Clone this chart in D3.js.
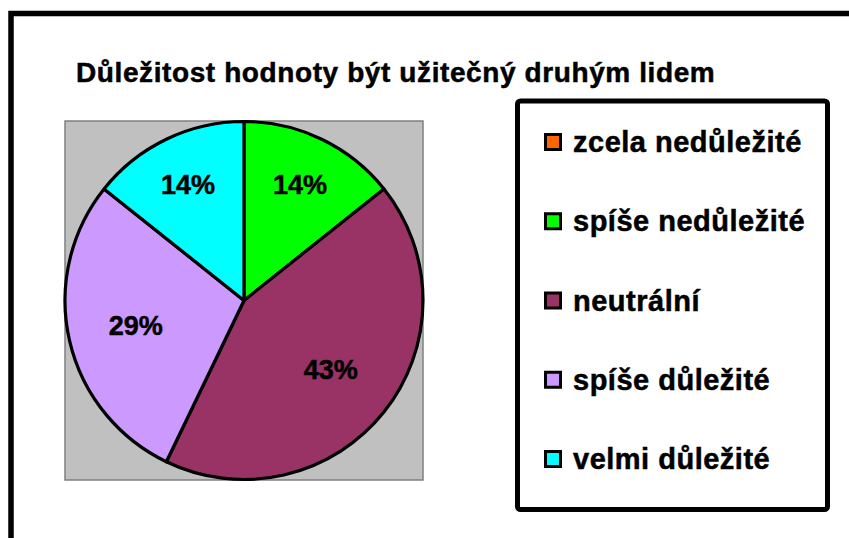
<!DOCTYPE html>
<html>
<head>
<meta charset="utf-8">
<script src="https://cdn.jsdelivr.net/npm/d3@7"></script>
<style>
  body { margin: 0; background: #fff; }
  text { font-family: "Liberation Sans", Arial, sans-serif; font-weight: bold; stroke: #000; stroke-width: 0.5; }
</style>
</head>
<body>
<div class="chart"></div>
<script>
// Data (counts out of 7 answers)
const categories = ["zcela nedůležité", "spíše nedůležité", "neutrální", "spíše důležité", "velmi důležité"];
const counts = [0, 1, 3, 2, 1];
const colors = ["#FF6600", "#00FF00", "#993366", "#CC99FF", "#00FFFF"];
const title = "Důležitost hodnoty být užitečný druhým lidem";

const width = 849;
const height = 538;

const svg = d3.select(".chart")
    .append("svg")
    .attr("width", width)
    .attr("height", height);

// outer chart frame (runs past the right and bottom edges)
svg.append("rect")
    .attr("x", 11)
    .attr("y", 13.5)
    .attr("width", 860)
    .attr("height", 560)
    .attr("fill", "none")
    .attr("stroke", "#000")
    .attr("stroke-width", 5.5);

svg.append("text")
    .attr("x", 76)
    .attr("y", 82)
    .attr("font-size", 28)
    .attr("letter-spacing", 0.6)
    .text(title);

// grey plot area
const plot = { x: 65, y: 121, w: 358, h: 359 };
svg.append("rect")
    .attr("x", plot.x)
    .attr("y", plot.y)
    .attr("width", plot.w)
    .attr("height", plot.h)
    .attr("fill", "#C0C0C0")
    .attr("stroke", "#808080")
    .attr("stroke-width", 1.5);

const radius = 179;
const pieG = svg.append("g")
    .attr("transform", `translate(${plot.x + plot.w / 2},${plot.y + plot.h / 2})`);

const pie = d3.pie().sort(null).value(d => d.value);
const arcs = pie(categories.map((c, i) => ({ name: c, value: counts[i], color: colors[i] })));
const total = d3.sum(counts);

const arc = d3.arc().innerRadius(0).outerRadius(radius);
// narrow slices get their label pushed further out, like Excel does
const labelPos = d => {
    const r = (d.endAngle - d.startAngle) < 1 ? radius * 0.72 : radius * 0.62;
    return d3.arc().innerRadius(r).outerRadius(r).centroid(d);
};

pieG.selectAll("path.slice")
    .data(arcs.filter(d => d.data.value > 0))
    .enter()
    .append("path")
    .attr("class", "slice")
    .attr("d", arc)
    .attr("fill", d => d.data.color)
    .attr("stroke", "#000")
    .attr("stroke-width", 3.2)
    .attr("stroke-linejoin", "round");

pieG.selectAll("text.label")
    .data(arcs.filter(d => d.data.value > 0))
    .enter()
    .append("text")
    .attr("class", "label")
    .attr("transform", d => `translate(${labelPos(d)})`)
    .attr("text-anchor", "middle")
    .attr("dy", "0.36em")
    .attr("font-size", 27)
    .text(d => d3.format(".0%")(d.data.value / total));

// legend
const legend = svg.append("g");
legend.append("rect")
    .attr("x", 517.5)
    .attr("y", 101)
    .attr("width", 310)
    .attr("height", 408.5)
    .attr("rx", 3)
    .attr("fill", "#fff")
    .attr("stroke", "#000")
    .attr("stroke-width", 5);

const rowY = d3.scalePoint()
    .domain(categories)
    .range([152, 469]);

const items = legend.selectAll("g.item")
    .data(categories)
    .enter()
    .append("g")
    .attr("class", "item")
    .attr("transform", d => `translate(0,${rowY(d)})`);

items.append("rect")
    .attr("x", 545.5)
    .attr("y", -17.5)
    .attr("width", 15)
    .attr("height", 15)
    .attr("fill", (d, i) => colors[i])
    .attr("stroke", "#000")
    .attr("stroke-width", 3);

items.append("text")
    .attr("x", 573)
    .attr("y", 0)
    .attr("font-size", 29)
    .attr("letter-spacing", 0.5)
    .text(d => d);
</script>
</body>
</html>
